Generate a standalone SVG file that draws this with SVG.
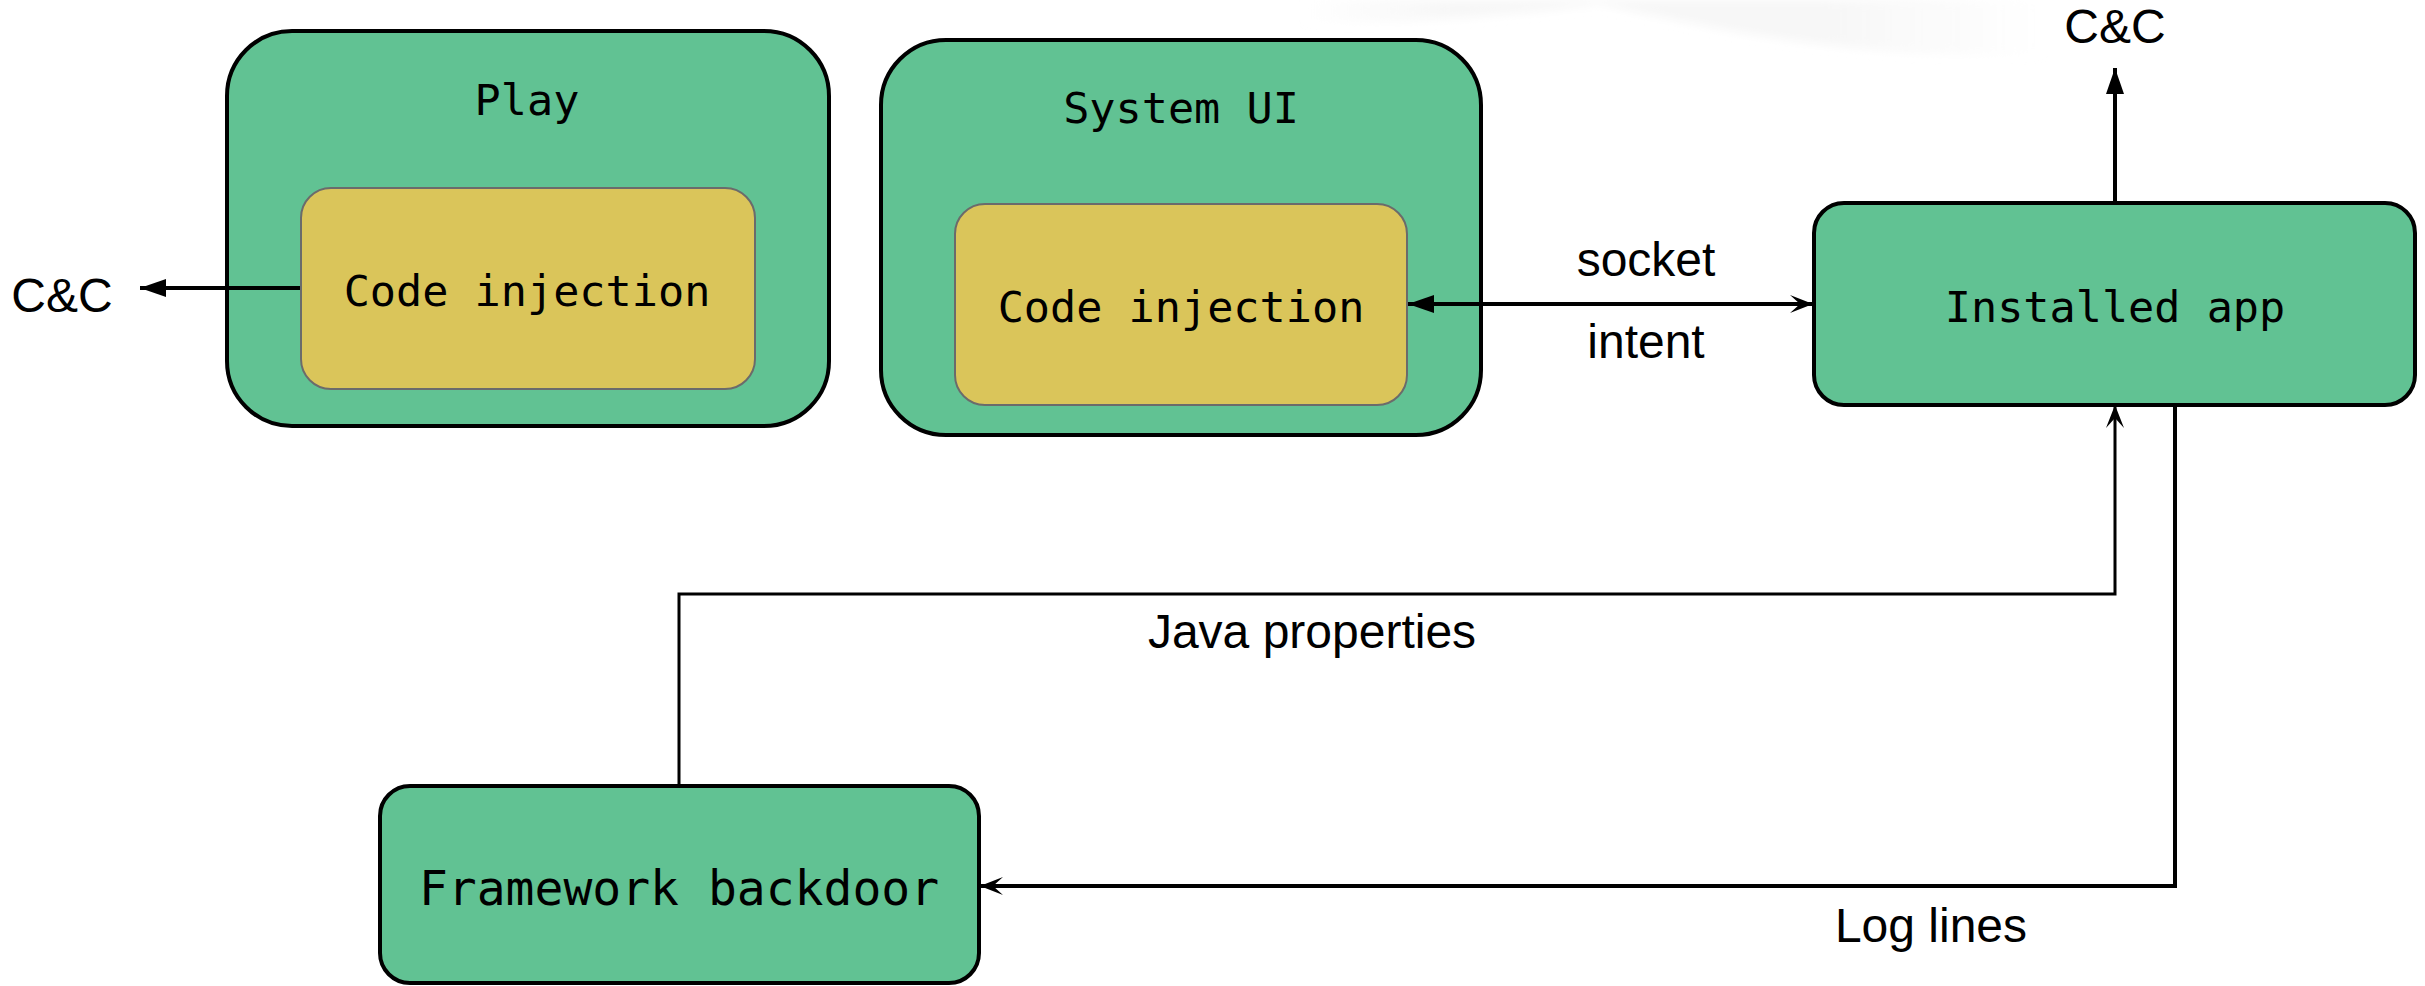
<svg xmlns="http://www.w3.org/2000/svg" width="2425" height="986" viewBox="0 0 2425 986">
  <style>
    .box { fill: #61c293; stroke: #000; stroke-width: 4; }
    .inner { fill: #dac55a; stroke: #6b6b6b; stroke-width: 2; }
    .mono { font-family: "DejaVu Sans Mono", "Liberation Mono", monospace; font-size: 43.5px; fill: #000; text-anchor: middle; }
    .lbl { font-family: "Liberation Sans", Arial, sans-serif; font-size: 48px; fill: #000; text-anchor: middle; }
    .wire { fill: none; stroke: #000; stroke-width: 4; }
    .thin { stroke-width: 3; }
  </style>
  <defs>
    <marker id="solid" viewBox="0 0 26 18" refX="26" refY="9" markerWidth="26" markerHeight="18" markerUnits="userSpaceOnUse" orient="auto-start-reverse">
      <path d="M0,0 L26,9 L0,18 Z" fill="#000"/>
    </marker>
    <marker id="open" viewBox="0 0 24 20" refX="23" refY="10" markerWidth="24" markerHeight="20" markerUnits="userSpaceOnUse" orient="auto">
      <path d="M0,1 L23,10 L0,19 L10,10 Z" fill="#000"/>
    </marker>
    <linearGradient id="fade" x1="0" y1="0" x2="1" y2="0">
      <stop offset="0" stop-color="#f7f7f7" stop-opacity="0"/>
      <stop offset="0.2" stop-color="#f7f7f7" stop-opacity="1"/>
      <stop offset="0.7" stop-color="#f7f7f7" stop-opacity="1"/>
      <stop offset="1" stop-color="#f7f7f7" stop-opacity="0"/>
    </linearGradient>
    <filter id="soft" x="-20%" y="-50%" width="140%" height="200%">
      <feGaussianBlur stdDeviation="5"/>
    </filter>
  </defs>

  <rect width="2425" height="986" fill="#fff"/>
  <!-- faint backdrop smudge along the top edge -->
  <path d="M1300,0 L2050,0 L2050,55 C1900,58 1780,45 1600,4 C1520,14 1420,24 1300,22 Z" fill="url(#fade)" filter="url(#soft)"/>

  <g id="play">
    <rect class="box" x="227" y="31" width="602" height="395" rx="65" ry="65"/>
    <text class="mono" x="527" y="115">Play</text>
    <g id="play-injection">
      <rect class="inner" x="301" y="188" width="454" height="201" rx="30" ry="30"/>
      <text class="mono" x="527" y="306">Code injection</text>
    </g>
  </g>

  <g id="system-ui">
    <rect class="box" x="881" y="40" width="600" height="395" rx="65" ry="65"/>
    <text class="mono" x="1181" y="123">System UI</text>
    <g id="systemui-injection">
      <rect class="inner" x="955" y="204" width="452" height="201" rx="30" ry="30"/>
      <text class="mono" x="1181" y="322">Code injection</text>
    </g>
  </g>

  <g id="installed-app">
    <rect class="box" x="1814" y="203" width="601" height="202" rx="30" ry="30"/>
    <text class="mono" x="2115" y="322">Installed app</text>
  </g>

  <g id="framework-backdoor">
    <rect class="box" x="380" y="786" width="599" height="197" rx="30" ry="30"/>
    <text class="mono" x="679" y="905" style="font-size:48px">Framework backdoor</text>
  </g>

  <g id="connectors">
    <!-- Play injection to C&C -->
    <path class="wire" d="M300,288 H140" marker-end="url(#solid)"/>
    <!-- Installed app to C&C -->
    <path class="wire" d="M2115,203 V68" marker-end="url(#solid)"/>
    <!-- socket / intent link -->
    <path class="wire" d="M1408,304 H1813" marker-start="url(#solid)" marker-end="url(#open)"/>
    <!-- Java properties -->
    <path class="wire thin" d="M679,786 V594 H2115 V405" marker-end="url(#open)"/>
    <!-- Log lines -->
    <path class="wire" d="M2175,405 V886 H980" marker-end="url(#open)"/>
  </g>

  <g id="labels">
    <text class="lbl" x="62" y="312">C&amp;C</text>
    <text class="lbl" x="2115" y="43">C&amp;C</text>
    <text class="lbl" x="1646" y="276">socket</text>
    <text class="lbl" x="1646" y="358">intent</text>
    <text class="lbl" x="1312" y="648">Java properties</text>
    <text class="lbl" x="1931" y="942">Log lines</text>
  </g>
</svg>
